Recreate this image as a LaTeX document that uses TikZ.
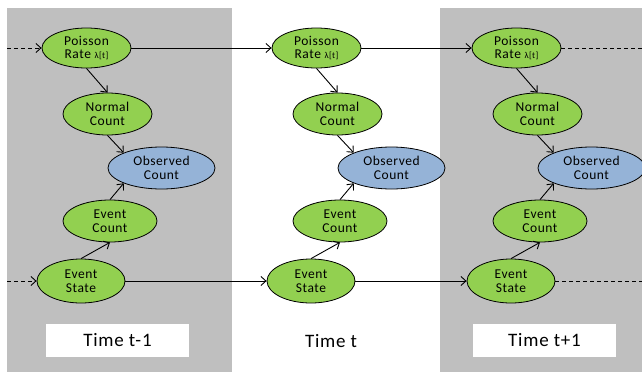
\documentclass[tikz,border=0pt]{standalone}
\usepackage{fontspec}
\setmainfont{Carlito}[LetterSpace=4]
\usetikzlibrary{shapes.geometric,arrows.meta}
\definecolor{panelgray}{HTML}{BFBFBF}
\definecolor{nodegreen}{HTML}{92D050}
\definecolor{nodeblue}{HTML}{95B3D7}
\tikzset{
  varnode/.style={ellipse, draw=black, line width=0.8pt, fill=nodegreen, inner sep=0pt,
    align=center, font=\fontsize{13.5}{13.5}\selectfont},
  obsnode/.style={varnode, fill=nodeblue},
  arr/.style={line width=0.9pt, -{Straight Barb[length=5pt,width=9pt]}},
  darr/.style={arr, dash pattern=on 4pt off 3pt},
  dline/.style={line width=0.9pt, dash pattern=on 4pt off 3pt},
  timebox/.style={fill=white, minimum width=143pt, minimum height=33pt, inner sep=0pt,
    font=\fontsize{19}{19}\selectfont},
}
\begin{document}
\begin{tikzpicture}[x=1pt,y=-1pt]
\useasboundingbox (0,0) rectangle (642,372);
\fill[white] (0,0) rectangle (642,372);
\fill[panelgray] (7,8) rectangle (232,372);
\fill[panelgray] (440,8) rectangle (642,372);
\foreach \i/\dx in {1/0,2/230,3/430}{
  \node[varnode, minimum width=89pt, minimum height=40pt] (P\i) at (86.5+\dx,48) {Poisson\\Rate {\fontsize{9}{9}\selectfont λ[t]}};
  \node[varnode, minimum width=89pt, minimum height=42pt] (N\i) at (107.5+\dx,114) {Normal\\Count};
  \node[obsnode, minimum width=107pt, minimum height=42pt] (O\i) at (161.5+\dx,168) {Observed\\Count};
  \node[varnode, minimum width=94pt, minimum height=42pt] (EC\i) at (110+\dx,221) {Event\\Count};
  \node[varnode, minimum width=88pt, minimum height=44pt] (ES\i) at (81+\dx,281) {Event\\State};
  \draw[arr] (P\i.south) -- (N\i.north);
  \draw[arr] (N\i.south) -- (O\i.158);
  \draw[arr] (ES\i.north) -- (EC\i.south);
  \draw[arr] (EC\i.north) -- (O\i.202);
}
\node[timebox] (T1) at (117.5,340.5) {Time t-1};
\node[font=\fontsize{19}{19}\selectfont] (T2) at (331,341) {Time t};
\node[timebox] (T3) at (544.5,340.5) {Time t+1};
\coordinate (Pin) at (7,48);
\coordinate (Pout) at (642,48);
\coordinate (Sin) at (7,281);
\coordinate (Sout) at (642,281);
\draw[darr] (Pin) -- (P1);
\draw[arr] (P1) -- (P2);
\draw[arr] (P2) -- (P3);
\draw[dline] (P3) -- (Pout);
\draw[darr] (Sin) -- (ES1);
\draw[arr] (ES1) -- (ES2);
\draw[arr] (ES2) -- (ES3);
\draw[dline] (ES3) -- (Sout);
\end{tikzpicture}
\end{document}
